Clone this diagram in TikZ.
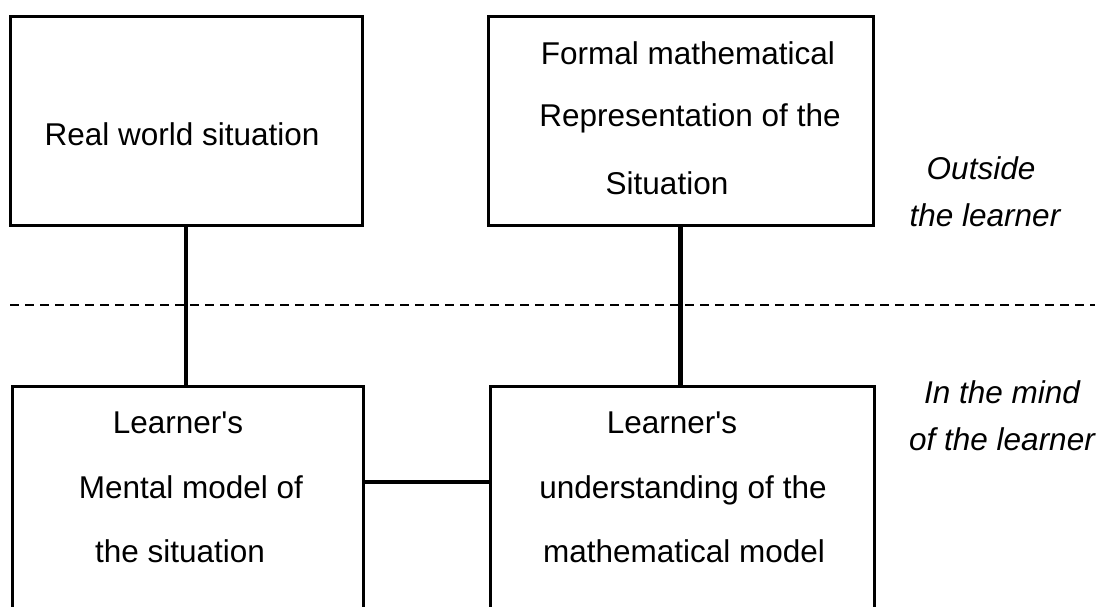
\documentclass[tikz,border=0pt]{standalone}
\usepackage{fontspec}
\setmainfont{Liberation Sans}[Ligatures=TeXOff]
\begin{document}
\begin{tikzpicture}[x=1pt,y=-1pt,
  box/.style={draw, line width=3pt, inner sep=0pt},
  link/.style={line width=4.5pt},
  sepline/.style={line width=1.5pt, dash pattern=on 9pt off 6pt},
  txt/.style={anchor=base, inner sep=0pt, font=\fontsize{31.5}{36}\selectfont},
  side/.style={anchor=base, inner sep=0pt, font=\fontsize{31.5}{36}\selectfont\itshape}]
\useasboundingbox (0,0) rectangle (1104,607);
% boxes
\node[box, minimum width=352pt, minimum height=209pt] (rw) at (186,121.5) {};
\node[box, minimum width=385pt, minimum height=209pt] (fm) at (680.5,121.5) {};
\node[box, minimum width=351pt, minimum height=274pt] (mm) at (187.5,523) {};
\node[box, minimum width=384pt, minimum height=274pt] (um) at (682,523) {};
% texts
\node[txt] (rwt) at (182,146) {Real world situation};
\node[txt] (fm1) at (688,65) {Formal mathematical};
\node[txt] (fm2) at (690,127) {Representation of the};
\node[txt] (fm3) at (667,195) {Situation};
\node[txt] (mm1) at (178,433) {Learner's};
\node[txt] (mm2) at (191,498) {Mental model of};
\node[txt] (mm3) at (180,562) {the situation};
\node[txt] (um1) at (672,433) {Learner's};
\node[txt] (um2) at (683,498) {understanding of the};
\node[txt] (um3) at (684,562) {mathematical model};
\node[side] (o1) at (981,180) {Outside};
\node[side] (o2) at (985,226) {the learner};
\node[side] (i1) at (1002,403) {In the mind};
\node[side] (i2) at (1002,450) {of the learner};
% separator
\coordinate (dl) at (10,305);
\coordinate (dr) at (1095,305);
\draw[sepline] (dl) -- (dr);
% connectors
\coordinate (hy) at (0,482);
\draw[link] (rw.south) -- (rw.south |- mm.north);
\draw[link] (fm.south) -- (fm.south |- um.north);
\draw[link] (mm.east |- hy) -- (um.west |- hy);
\end{tikzpicture}
\end{document}
